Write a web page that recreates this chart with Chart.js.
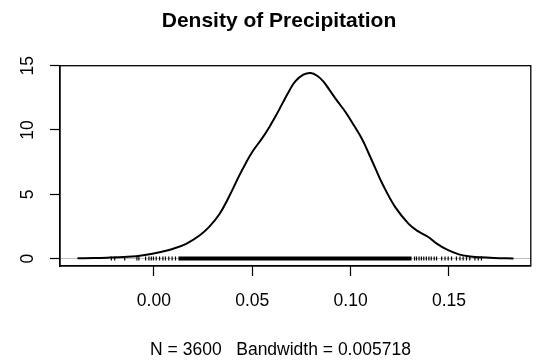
<!DOCTYPE html>
<html>
<head>
<meta charset="utf-8">
<script src="https://cdn.jsdelivr.net/npm/chart.js@4.4.1/dist/chart.umd.min.js"></script>
<style>
    html, body { margin: 0; padding: 0; background: #ffffff; }
</style>
</head>
<body>
<canvas id="myChartDensidade" width="536" height="364"></canvas>
<script>
/* DADOS DO GRAFICO */
const tituloPrincipal = 'Density of Precipitation';
const subtitulo = 'N = 3600   Bandwidth = 0.005718';

// curva de densidade - x (precipitacao) e y (densidade)
const densidadeX = [-0.0388, -0.030, -0.0224, -0.015, -0.0089, -0.003, 0.0029, 0.0095, 0.0164, 0.0232,
    0.028, 0.0333, 0.038, 0.0434, 0.047, 0.0505, 0.055, 0.0586, 0.062, 0.0653,
    0.069, 0.072, 0.076, 0.0797, 0.083, 0.086, 0.0889, 0.093, 0.0974, 0.1015,
    0.1058, 0.1090, 0.1125, 0.1159, 0.1227, 0.1294, 0.134, 0.1395, 0.144, 0.1496,
    0.155, 0.1598, 0.166, 0.173, 0.1828];
const densidadeY = [0.02, 0.04, 0.08, 0.13, 0.19, 0.32, 0.5, 0.75, 1.15, 1.8,
    2.45, 3.45, 4.75, 6.45, 7.5, 8.4, 9.35, 10.2, 11.1, 12.05,
    13.1, 13.8, 14.3, 14.43, 14.22, 13.8, 13.2, 12.3, 11.4, 10.4,
    9.3, 8.25, 7.05, 5.9, 4.0, 2.72, 2.15, 1.68, 1.15, 0.65,
    0.33, 0.18, 0.1, 0.05, 0.01];

// rug - tracinhos isolados nas pontas
const rugValores = [-0.0216, -0.0199, -0.0148, -0.0086, -0.0076, -0.0042, -0.0025, -0.0013, -0.0002, 0.0012,
    0.0029, 0.0046, 0.0059, 0.0076, 0.0093, 0.011,
    0.1325, 0.1335, 0.1348, 0.136, 0.1372, 0.1385, 0.1398, 0.141, 0.1425, 0.1437,
    0.1463, 0.148, 0.1496, 0.1513, 0.1538, 0.1556, 0.1572, 0.1589, 0.1606, 0.1632, 0.1649, 0.1665];
// rug - trecho onde os tracinhos viram uma faixa continua
const rugFaixa = [0.0125, 0.131];

// eixos
const xTicks = [0.00, 0.05, 0.10, 0.15];
const yTicks = [0, 5, 10, 15];
const xLimites = [-0.0477, 0.1916];
const yLimites = [-0.577, 15.0];

const fonte = '"Liberation Sans", Arial, Helvetica, sans-serif';

// moldura do R (caixa) + titulo + texto de baixo
const molduraR = {
    id: 'molduraR',
    afterDraw(chart) {
        const ctx = chart.ctx;
        const a = chart.chartArea;
        ctx.save();
        ctx.strokeStyle = '#000000';
        ctx.lineWidth = 1.3;
        ctx.strokeRect(a.left, a.top, a.right - a.left, a.bottom - a.top);
        ctx.fillStyle = '#000000';
        ctx.textAlign = 'center';
        ctx.textBaseline = 'alphabetic';
        ctx.font = 'bold 21px ' + fonte;
        ctx.fillText(tituloPrincipal, 279, 26.7);
        ctx.font = '17.5px ' + fonte;
        ctx.fillText(subtitulo, 280.5, 355);
        ctx.restore();
    }
};

function plotarDensidade() {
    let pontosCurva = [];
    for (let i = 0; i < densidadeX.length; i++) {
        pontosCurva.push({ x: densidadeX[i], y: densidadeY[i] });
    }
    let pontosRug = rugValores.map(function (v) { return { x: v, y: 0 }; });
    let pontosFaixa = rugFaixa.map(function (v) { return { x: v, y: 0 }; });

    const dados = {
        datasets: [{
            data: pontosCurva,
            borderColor: '#000000',
            borderWidth: 2,
            pointRadius: 0,
            tension: 0.4,
            fill: false,
            order: 3
        }, {
            data: pontosFaixa,
            borderColor: '#000000',
            borderWidth: 4,
            borderCapStyle: 'butt',
            pointRadius: 0,
            order: 1
        }, {
            data: pontosRug,
            showLine: false,
            pointStyle: 'line',
            pointRotation: 90,
            pointRadius: 2,
            pointBorderWidth: 1.2,
            pointBorderColor: '#000000',
            order: 2
        }]
    };

    const config = {
        type: 'line',
        data: dados,
        plugins: [molduraR],
        options: {
            responsive: false,
            animation: false,
            devicePixelRatio: 1,
            events: [],
            layout: { padding: { top: 65.7, right: 3, left: 0, bottom: 0 } },
            scales: {
                x: {
                    type: 'linear',
                    min: xLimites[0],
                    max: xLimites[1],
                    afterBuildTicks: function (s) { s.ticks = xTicks.map(function (v) { return { value: v }; }); },
                    afterFit: function (s) { s.height = 98; },
                    ticks: {
                        autoSkip: false,
                        maxRotation: 0,
                        color: '#000000',
                        padding: 15,
                        font: { family: fonte, size: 17.5 },
                        callback: function (v) { return Number(v).toFixed(2); }
                    },
                    grid: { drawOnChartArea: false, tickLength: 10, tickColor: '#000000', tickWidth: 1.2 },
                    border: { color: '#000000', width: 1.3 }
                },
                y: {
                    min: yLimites[0],
                    max: yLimites[1],
                    afterBuildTicks: function (s) { s.ticks = yTicks.map(function (v) { return { value: v }; }); },
                    afterFit: function (s) { s.width = 60; },
                    ticks: {
                        minRotation: 90,
                        maxRotation: 90,
                        crossAlign: 'center',
                        color: '#000000',
                        padding: 12,
                        font: { family: fonte, size: 17.5 }
                    },
                    grid: {
                        drawOnChartArea: true,
                        tickLength: 10,
                        tickColor: '#000000',
                        tickWidth: 1.2,
                        color: function (c) { return (c.tick && c.tick.value === 0) ? '#bebebe' : 'rgba(0,0,0,0)'; }
                    },
                    border: { color: '#000000', width: 1.3 }
                }
            },
            plugins: {
                title: { display: false },
                legend: { display: false },
                tooltip: { enabled: false }
            }
        }
    };

    new Chart(document.getElementById('myChartDensidade').getContext('2d'), config);
}

plotarDensidade();
</script>
</body>
</html>
